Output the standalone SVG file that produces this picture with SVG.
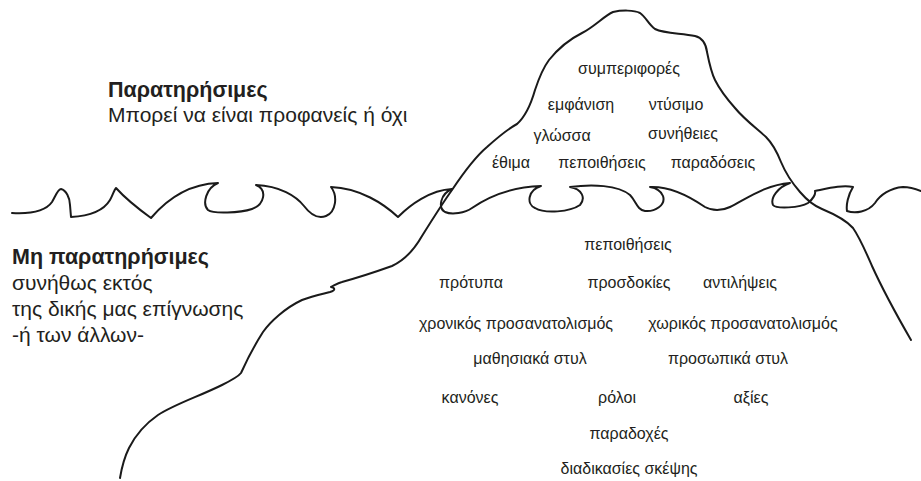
<svg xmlns="http://www.w3.org/2000/svg" width="921" height="481" viewBox="0 0 921 481">
  <style>
    .line { fill: none; stroke: #1a1a1a; stroke-width: 2; stroke-linejoin: round; stroke-linecap: round; }
    .lbl { font-family: "Liberation Sans", Arial, sans-serif; font-size: 16px; fill: #231f20; text-anchor: middle; }
    .head { font-family: "Liberation Sans", Arial, sans-serif; font-size: 21.5px; font-weight: bold; fill: #231f20; }
    .note { font-family: "Liberation Sans", Arial, sans-serif; font-size: 21px; fill: #231f20; }
  </style>
  <rect width="921" height="481" fill="#ffffff"/>

  <!-- iceberg outline -->
  <g id="iceberg">
    <path class="line" d="M120,478 C122,466 125,456 129,448 C135,436 145,424 158,415 C175,404 200,396 222,385 C232,380 238,377 241,373 C246,362 254,346 263,332 C270,322 285,308 302,300 C312,296 322,294 330,292 C336,290 335,288 331,287 C335,285 338,283 342,282 C360,277 378,271 392,266 C405,260 414,250 422,236 C432,220 442,204 452,190 C462,175 474,158 487,147 C497,138 506,130 517,124 C526,116 531,104 535,90 C539,78 543,68 549,60 C557,50 568,40 582,33 C594,27 604,16 613,12 C622,10 634,10 640,13 C646,17 648,24 655,29 C665,34 682,33 695,36 C703,38 706,44 707,52 C709,62 711,72 715,80 C720,90 727,99 735,108 C744,119 756,128 766,137 C773,144 777,152 781,162 C786,174 793,184 800,192 C806,199 812,205 822,209 C834,214 846,220 853,228 C860,238 865,250 872,266 C882,288 896,314 911,340"/>
  </g>

  <!-- waterline -->
  <g id="waterline">
    <path class="line" d="M12,213 C30,214 45,212 52,202 C56,195 58,189 61,189 C66,190 70,198 70,205 L71,217 C90,216 104,210 110,200 C113,195 114,190 116,188 C125,198 140,210 151,218 C168,198 190,184 218,183 C206,188 202,204 208,210 C213,214 240,213 252,209 C264,205 268,190 256,185 C280,186 296,196 304,206 C310,214 318,219 326,216 C336,212 338,196 331,187 C360,188 384,204 398,217 C410,205 430,190 452,189 C440,194 438,208 445,212 C452,215 465,213 472,208 C488,197 510,187 541,186 C528,190 526,204 535,208 C545,214 570,212 580,205 C586,198 582,189 570,187 C592,184 618,185 630,195 C636,201 637,210 645,211 C655,212 666,205 663,196 C661,191 656,188 650,187 C672,186 692,198 705,207 C712,211 722,211 730,207 C748,198 765,185 790,183 C778,187 770,198 773,205 C776,209 800,208 808,203 C813,199 816,194 815,191 C830,188 842,185 853,187 C848,195 846,205 847,211 C855,214 868,212 875,203 C880,195 890,188 903,187 C910,187 916,189 921,191"/>
  </g>

  <!-- side captions -->
  <g id="visible-caption">
    <text class="head" x="108" y="97">Παρατηρήσιμες</text>
    <text class="note" x="108" y="122">Μπορεί να είναι προφανείς ή όχι</text>
  </g>
  <g id="hidden-caption">
    <text class="head" x="12" y="264">Μη παρατηρήσιμες</text>
    <text class="note" x="12" y="290">συνήθως εκτός</text>
    <text class="note" x="12" y="316">της δικής μας επίγνωσης</text>
    <text class="note" x="12" y="342">-ή των άλλων-</text>
  </g>

  <!-- items above the waterline -->
  <g id="above">
    <text class="lbl" x="629" y="74">συμπεριφορές</text>
    <text class="lbl" x="581" y="110">εμφάνιση</text>
    <text class="lbl" x="676" y="110">ντύσιμο</text>
    <text class="lbl" x="562" y="141">γλώσσα</text>
    <text class="lbl" x="683" y="139">συνήθειες</text>
    <text class="lbl" x="511" y="168">έθιμα</text>
    <text class="lbl" x="602" y="168">πεποιθήσεις</text>
    <text class="lbl" x="713" y="168">παραδόσεις</text>
  </g>

  <!-- items below the waterline -->
  <g id="below">
    <text class="lbl" x="628" y="250">πεποιθήσεις</text>
    <text class="lbl" x="471" y="288">πρότυπα</text>
    <text class="lbl" x="629" y="288">προσδοκίες</text>
    <text class="lbl" x="740" y="288">αντιλήψεις</text>
    <text class="lbl" x="516" y="329">χρονικός προσανατολισμός</text>
    <text class="lbl" x="743" y="329">χωρικός προσανατολισμός</text>
    <text class="lbl" x="530" y="364">μαθησιακά στυλ</text>
    <text class="lbl" x="728" y="364">προσωπικά στυλ</text>
    <text class="lbl" x="470" y="403">κανόνες</text>
    <text class="lbl" x="617" y="403">ρόλοι</text>
    <text class="lbl" x="751" y="403">αξίες</text>
    <text class="lbl" x="629" y="439">παραδοχές</text>
    <text class="lbl" x="629" y="474">διαδικασίες σκέψης</text>
  </g>
</svg>
